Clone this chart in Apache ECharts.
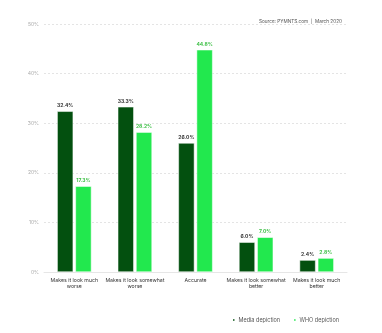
<!DOCTYPE html>
<html><head><meta charset="utf-8">
<script src="https://cdn.jsdelivr.net/npm/echarts@6/dist/echarts.min.js"></script>
<style>html,body{margin:0;padding:0;background:#fff}#c{width:382px;height:333px}</style>
</head><body><div id="c"></div>
<script>
const categories = ['Makes it look much\nworse', 'Makes it look somewhat\nworse', 'Accurate', 'Makes it look somewhat\nbetter', 'Makes it look much\nbetter'];
const mediaValues = [32.4, 33.3, 26.0, 6.0, 2.4];
const whoValues = [17.3, 28.2, 44.8, 7.0, 2.8];
const seriesNames = ['Media depiction', 'WHO depiction'];
const sourceText = 'Source: PYMNTS.com  |  March 2020';
const FONT = 'Inter, "Noto Sans", sans-serif';
const chart = echarts.init(document.getElementById('c'));
chart.setOption({
  animation: false,
  textStyle: { fontFamily: FONT },
  title: { text: sourceText, right: 35, top: 14, textStyle: { fontSize: 4.7, fontWeight: 'normal', color: '#555', fontFamily: FONT } },
  legend: {
    data: seriesNames, left: 226, top: 312, itemWidth: 3.5, itemHeight: 3.5, itemGap: 12, icon: 'rect',
    textStyle: { fontSize: 5.5, color: '#555', fontFamily: FONT, padding: [0, 0, 0, -2] }
  },
  grid: { left: 44, right: 35, top: 24, bottom: 61, containLabel: false },
  xAxis: {
    type: 'category', data: categories,
    axisLine: { lineStyle: { color: '#e6e6e6' } }, axisTick: { show: false },
    axisLabel: { fontSize: 5.2, color: '#333', lineHeight: 6, margin: 5, interval: 0, fontFamily: FONT }
  },
  yAxis: {
    type: 'value', min: 0, max: 50, interval: 10,
    axisLabel: { formatter: '{value}%', fontSize: 5, color: '#aaa', margin: 5, fontFamily: FONT },
    axisLine: { show: false }, axisTick: { show: false },
    splitLine: { lineStyle: { color: '#ddd', type: [2, 2], width: 0.8 } }
  },
  series: [
    { name: seriesNames[0], type: 'bar', data: mediaValues, barWidth: 16, barGap: '14%',
      itemStyle: { color: '#03500f', borderColor: '#fff', borderWidth: 0.5 },
      label: { show: true, position: 'top', distance: 3, formatter: p => p.value.toFixed(1) + '%', fontSize: 5, fontWeight: 'bold', color: '#333', fontFamily: FONT } },
    { name: seriesNames[1], type: 'bar', data: whoValues, barWidth: 16,
      itemStyle: { color: '#22e84e', borderColor: '#fff', borderWidth: 0.5 },
      label: { show: true, position: 'top', distance: 3, formatter: p => p.value.toFixed(1) + '%', fontSize: 5, fontWeight: 'bold', color: '#3cbf45', fontFamily: FONT } }
  ]
});
</script></body></html>
